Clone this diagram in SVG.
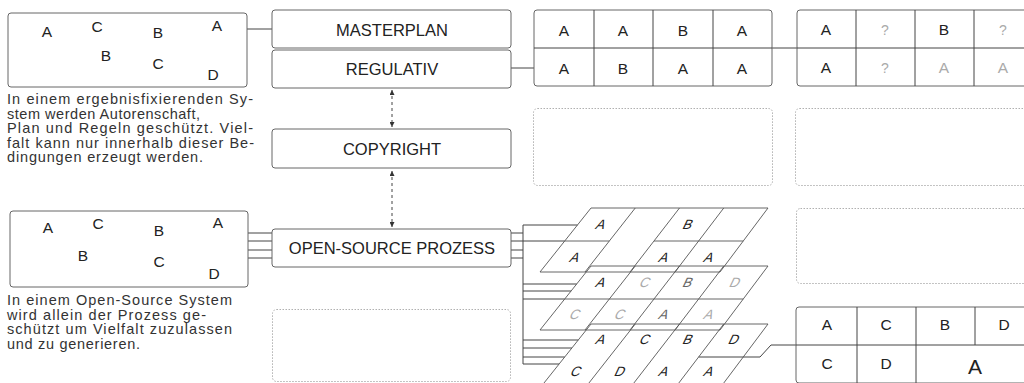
<svg xmlns="http://www.w3.org/2000/svg" width="1024" height="383" viewBox="0 0 1024 383">
<defs>
<style>
.box{fill:#fff;stroke:#666;stroke-width:1}
.dot{fill:none;stroke:#b0b0b0;stroke-width:1;stroke-dasharray:1.5 1.5}
.ln{fill:none;stroke:#444;stroke-width:1}
.gl{fill:none;stroke:#555;stroke-width:0.9}
.dash{fill:none;stroke:#444;stroke-width:1;stroke-dasharray:3 3}
.lbl{font-family:"Liberation Sans",Arial,sans-serif;font-size:16.5px;fill:#222;text-anchor:middle}
.let{font-family:"Liberation Sans",Arial,sans-serif;font-size:15.5px;fill:#222;text-anchor:middle}
.q{font-size:14px;fill:#aaa}
.lt{fill:#aaa}
.md{fill:#666}
.sk{font-family:"Liberation Sans",Arial,sans-serif;font-size:13.5px;text-anchor:middle;fill:#222}
.body{font-family:"Liberation Sans",Arial,sans-serif;font-size:14.5px;fill:#333}
</style>
<marker id="ah" viewBox="0 0 6 6" refX="6" refY="3" markerWidth="5" markerHeight="5" orient="auto-start-reverse"><path d="M0,0 L6,3 L0,6 z" fill="#333"/></marker>
</defs>
<rect width="1024" height="383" fill="#fff"/>

<g id="connectors">
<path class="ln" d="M247,29 H272"/>
<path class="ln" d="M511,68 H534"/>
<path class="ln" d="M772,48 H797"/>
<line class="dash" x1="392" y1="90" x2="392" y2="127" marker-start="url(#ah)" marker-end="url(#ah)"/>
<line class="dash" x1="392" y1="171" x2="392" y2="227" marker-start="url(#ah)" marker-end="url(#ah)"/>
<path class="ln" d="M248,233 H272 M248,241 H272 M248,250 H272 M248,258 H272"/>
<path class="ln" d="M511,233 H523 M511,241 H523 M511,250 H523 M511,258 H523"/>
<path class="ln" d="M523,225 V364"/>
<path class="ln" d="M523,225 H577.5 M523,241 H564.7"/>
<path class="ln" d="M523,284 H576.7 M523,291 H571.1 M523,299 H564.7"/>
<path class="ln" d="M523,340 H578.3 M523,348 H571.9 M523,357 H564.7 M523,364 H559"/>
<path class="ln" d="M698.6,357 H760 L771,345 H796"/>
</g>

<g id="box-fixed">
<rect class="box" x="8" y="13" width="239" height="74" rx="3"/>
<g class="let">
<text x="47" y="37">A</text><text x="97" y="32">C</text><text x="158" y="38">B</text><text x="217" y="31">A</text>
<text x="106" y="61">B</text><text x="158" y="69">C</text><text x="213" y="80">D</text>
</g>
<g class="body">
<text x="7" y="104" textLength="246" lengthAdjust="spacing">In einem ergebnisfixierenden Sy-</text>
<text x="7" y="118.5" textLength="193" lengthAdjust="spacing">stem werden Autorenschaft,</text>
<text x="7" y="133" textLength="246" lengthAdjust="spacing">Plan und Regeln geschützt. Viel-</text>
<text x="7" y="147.5" textLength="247" lengthAdjust="spacing">falt kann nur innerhalb dieser Be-</text>
<text x="7" y="162" textLength="196" lengthAdjust="spacing">dingungen erzeugt werden.</text>
</g>
</g>

<g id="box-open">
<rect class="box" x="10" y="211" width="238" height="76" rx="3"/>
<g class="let">
<text x="48" y="233">A</text><text x="98" y="229">C</text><text x="159" y="236">B</text><text x="218" y="228">A</text>
<text x="83" y="261">B</text><text x="159" y="267">C</text><text x="214" y="279">D</text>
</g>
<g class="body">
<text x="7" y="305" textLength="225" lengthAdjust="spacing">In einem Open-Source System</text>
<text x="7" y="319.5" textLength="199" lengthAdjust="spacing">wird allein der Prozess ge-</text>
<text x="7" y="334" textLength="225" lengthAdjust="spacing">schützt um Vielfalt zuzulassen</text>
<text x="7" y="348.5" textLength="133" lengthAdjust="spacing">und zu generieren.</text>
</g>
</g>

<g id="masterplan">
<rect class="box" x="272" y="10" width="239" height="38" rx="3"/>
<text class="lbl" x="392" y="35.5">MASTERPLAN</text>
</g>
<g id="regulativ">
<rect class="box" x="272" y="50" width="239" height="38" rx="3"/>
<text class="lbl" x="392" y="74.5">REGULATIV</text>
</g>
<g id="copyright">
<rect class="box" x="272" y="129" width="239" height="39" rx="3"/>
<text class="lbl" x="392" y="154.5">COPYRIGHT</text>
</g>
<g id="open-source-prozess">
<rect class="box" x="272" y="229" width="239" height="38" rx="3"/>
<text class="lbl" x="392" y="254">OPEN-SOURCE PROZESS</text>
</g>
<g id="empty-bottom-mid">
<rect class="dot" x="272.5" y="309.5" width="238" height="72" rx="4"/>
</g>

<g id="grid-top-mid">
<rect class="box" x="534" y="10" width="238" height="76" rx="3"/>
<path class="ln" d="M534,48 H772 M594,10 V86 M653,10 V86 M713,10 V86"/>
<g class="let">
<text x="564" y="36">A</text><text x="623" y="36">A</text><text x="683" y="36">B</text><text x="742" y="36">A</text>
<text x="564" y="74">A</text><text x="623" y="74">B</text><text x="683" y="74">A</text><text x="742" y="74">A</text>
</g>
</g>

<g id="grid-top-right">
<rect class="box" x="797" y="10" width="245" height="76" rx="3"/>
<path class="ln" d="M797,48 H1042 M856,10 V86 M915,10 V86 M974,10 V86"/>
<g class="let">
<text x="826" y="35">A</text><text class="q" x="885" y="35">?</text><text x="944" y="35">B</text><text class="q" x="1003" y="35">?</text>
<text x="826" y="73">A</text><text class="q" x="885" y="73">?</text><text class="lt" x="944" y="73">A</text><text class="lt" x="1003" y="73">A</text>
</g>
</g>

<g id="empty-row2-mid">
<rect class="dot" x="533.5" y="108.5" width="239" height="77" rx="4"/>
</g>
<g id="empty-row2-right">
<rect class="dot" x="795.5" y="108.5" width="245" height="77" rx="4"/>
</g>
<g id="empty-row3-right">
<rect class="dot" x="796.5" y="208.5" width="245" height="75" rx="4"/>
</g>

<g id="layer-1">
<path class="gl" d="M591,208 H768 M540,272 H720 M591,208 L540,272 M635.25,208 L585,272 M679.5,208 L630,272 M723.75,208 L675,272 M768,208 L720,272 M564.7,241 H609.3 M654,241 H743.25"/>
<g class="sk lt">
<text transform="translate(599,229) skewX(-25)">A</text><text transform="translate(686,229) skewX(-25)">B</text>
<text transform="translate(573,262) skewX(-25)">A</text><text transform="translate(662,262) skewX(-25)">A</text><text transform="translate(707,262) skewX(-25)">A</text>
</g>
</g>

<g id="layer-2">
<path class="gl" d="M591,266 H768 M540,330 H720 M591,266 L540,330 M635.25,266 L585,330 M679.5,266 L630,330 M723.75,266 L675,330 M768,266 L720,330 M564.7,299 H743.25"/>
<g class="sk">
<text transform="translate(599,287) skewX(-25)">A</text><text class="lt" transform="translate(643,287) skewX(-25)">C</text><text class="md" transform="translate(686,287) skewX(-25)">B</text><text class="lt" transform="translate(733,287) skewX(-25)">D</text>
<text class="lt" transform="translate(573,319) skewX(-25)">C</text><text class="lt" transform="translate(618,319) skewX(-25)">C</text><text class="md" transform="translate(662,319) skewX(-25)">A</text><text class="lt" transform="translate(707,319) skewX(-25)">A</text>
</g>
</g>

<g id="layer-3">
<path class="gl" d="M591,324 H768 M540,388 H720 M591,324 L540,388 M635.25,324 L585,388 M679.5,324 L630,388 M723.75,324 L675,388 M768,324 L720,388"/>
<g class="sk">
<text transform="translate(599,344) skewX(-25)">A</text><text transform="translate(643,344) skewX(-25)">C</text><text transform="translate(686,344) skewX(-25)">B</text><text transform="translate(732,344) skewX(-25)">D</text>
<text transform="translate(574,376) skewX(-25)">C</text><text transform="translate(618,376) skewX(-25)">D</text><text transform="translate(662,376) skewX(-25)">A</text><text transform="translate(707,376) skewX(-25)">A</text>
</g>
</g>

<g id="grid-bottom-right">
<rect class="box" x="796" y="307" width="246" height="76" rx="3"/>
<path class="ln" d="M796,345 H1042 M857,307 V383 M916,307 V383 M975,307 V345"/>
<g class="let">
<text x="827" y="330">A</text><text x="886" y="330">C</text><text x="945" y="330">B</text><text x="1004" y="330">D</text>
<text x="827" y="369">C</text><text x="886" y="369">D</text>
<text x="975" y="374" style="font-size:21px">A</text>
</g>
</g>
</svg>
